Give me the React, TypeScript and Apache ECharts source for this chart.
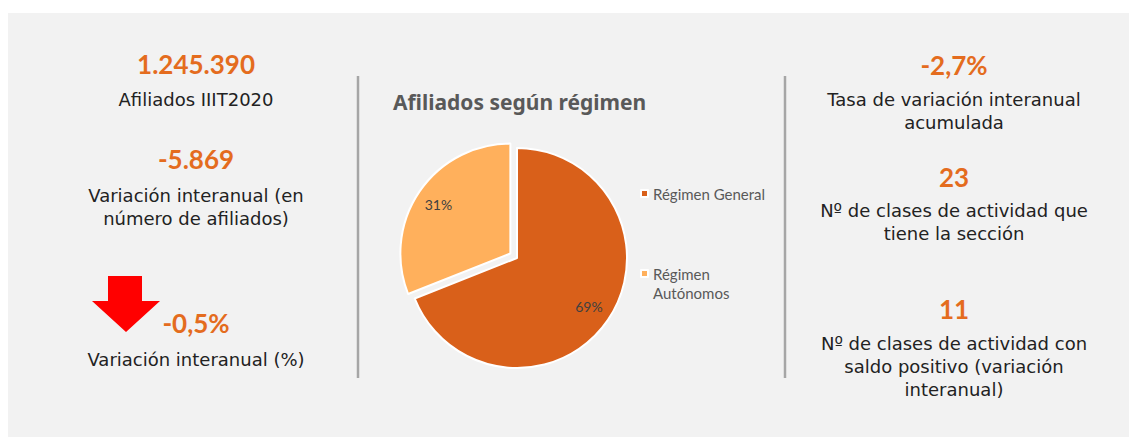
import React, { useEffect, useRef } from "react";
import * as echarts from "echarts";

// ---- data ----
const leftValues = ["1.245.390", "-5.869", "-0,5%"];
const leftLabels = [
  "Afiliados IIIT2020",
  "Variación interanual (en\nnúmero de afiliados)",
  "Variación interanual (%)",
];
const rightValues = ["-2,7%", "23", "11"];
const rightLabels = [
  "Tasa de variación interanual\nacumulada",
  "Nº de clases de actividad que\ntiene la sección",
  "Nº de clases de actividad con\nsaldo positivo (variación\ninteranual)",
];
const pieTitle = "Afiliados según régimen";
const regimenNames = ["Régimen General", "Régimen Autónomos"];
const regimenLegendLabels = ["Régimen General", "Régimen\nAutónomos"];
const regimenValues = [69, 31];

// ---- layout / style ----
const ORANGE = "#e46c1e";
const TEXT = "#222222";
const leftX = 196;
const rightX = 954;
const leftValueY = [64, 159, 323];
const leftLabelY = [99, 206.5, 359];
const rightValueY = [65, 177, 309];
const rightLabelY = [110.5, 222, 366.5];
const pieColors = ["#d9601a", "#ffb05c"];
const PIE_CENTER = [517, 258];
const PIE_R = 110;

function txt(text: string, x: number, y: number, font: string, fill: string, lineHeight?: number) {
  return {
    type: "text",
    x,
    y,
    silent: true,
    style: {
      text,
      font,
      fill,
      align: "center",
      verticalAlign: "middle",
      textAlign: "center",
      textVerticalAlign: "middle",
      lineHeight,
    },
  };
}

export default function App() {
  const ref = useRef<HTMLDivElement>(null);
  useEffect(() => {
    if (!ref.current) return;
    const chart = echarts.init(ref.current, undefined, { renderer: "svg" });
    const valueFont = "bold 26px Lato";
    const labelFont = "18px 'DejaVu Sans'";
    const graphic: any[] = [
      { type: "rect", shape: { x: 8, y: 13, width: 1121, height: 424 }, style: { fill: "#f2f2f2" }, silent: true, z: -10 },
      { type: "line", shape: { x1: 358, y1: 76, x2: 358, y2: 378 }, style: { stroke: "#a6a6a6", lineWidth: 2.5 }, silent: true },
      { type: "line", shape: { x1: 785, y1: 76, x2: 785, y2: 378 }, style: { stroke: "#a6a6a6", lineWidth: 2.5 }, silent: true },
      {
        type: "polygon",
        shape: {
          points: [
            [108, 276], [142, 276], [142, 301], [160, 301], [126, 332], [92, 301], [108, 301],
          ],
        },
        style: { fill: "#ff0000" },
        silent: true,
      },
      {
        type: "text",
        x: 393,
        y: 102,
        silent: true,
        style: {
          text: pieTitle,
          font: "bold 21px 'Noto Sans'",
          fill: "#595959",
          align: "left",
          verticalAlign: "middle",
          textAlign: "left",
          textVerticalAlign: "middle",
        },
      },
    ];
    leftValues.forEach((v, i) => graphic.push(txt(v, leftX, leftValueY[i], valueFont, ORANGE)));
    leftLabels.forEach((v, i) => graphic.push(txt(v, leftX, leftLabelY[i], labelFont, TEXT, 23)));
    rightValues.forEach((v, i) => graphic.push(txt(v, rightX, rightValueY[i], valueFont, ORANGE)));
    rightLabels.forEach((v, i) => graphic.push(txt(v, rightX, rightLabelY[i], labelFont, TEXT, 23)));

    const pieData = regimenNames.map((name, i) => ({
      name,
      value: regimenValues[i],
      selected: i === 1,
    }));

    chart.setOption({
      animation: false,
      color: pieColors,
      graphic,
      legend: {
        orient: "vertical",
        left: 635,
        top: 179,
        itemWidth: 7,
        itemHeight: 7,
        icon: "rect",
        itemGap: 42,
        selectedMode: false,
        textStyle: { fontFamily: "Lato", fontSize: 15, color: "#595959", lineHeight: 19 },
        formatter: (name: string) => {
          const label = regimenLegendLabels[regimenNames.indexOf(name)];
          return label.includes("\n") ? "\n" + label : label;
        },
        data: regimenNames,
      },
      series: [
        {
          type: "pie",
          center: PIE_CENTER,
          radius: PIE_R,
          startAngle: 90,
          clockwise: true,
          selectedMode: "single",
          selectedOffset: 8,
          silent: true,
          itemStyle: { borderColor: "#ffffff", borderWidth: 2 },
          label: { show: false },
          labelLine: { show: false },
          emphasis: { disabled: true },
          data: pieData,
        },
        {
          type: "pie",
          center: PIE_CENTER,
          radius: [58, PIE_R],
          startAngle: 90,
          clockwise: true,
          selectedMode: "single",
          selectedOffset: 8,
          silent: true,
          legendHoverLink: false,
          itemStyle: { color: "rgba(0,0,0,0)", borderWidth: 0 },
          label: {
            show: true,
            position: "inside",
            formatter: "{d}%",
            fontFamily: "Lato",
            fontSize: 14,
            color: "#404040",
          },
          labelLine: { show: false },
          emphasis: { disabled: true },
          data: pieData,
        },
      ],
    });
    return () => chart.dispose();
  }, []);
  return (
    <div
      ref={ref}
      style={{ position: "absolute", left: 0, top: 0, width: 1130, height: 437 }}
    />
  );
}
